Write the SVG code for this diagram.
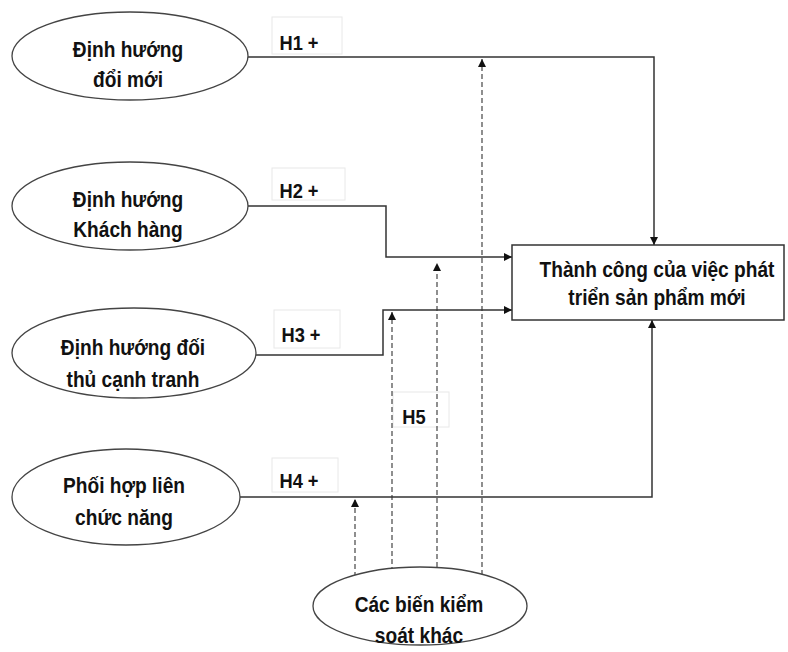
<svg xmlns="http://www.w3.org/2000/svg" width="788" height="652" viewBox="0 0 788 652">
<style>
.node ellipse{fill:#fff;stroke:#444;stroke-width:1.3}
.node rect{fill:#fff;stroke:#333;stroke-width:1.5}
text{font-family:"Liberation Sans",Arial,sans-serif;font-size:22px;font-weight:bold;fill:#111;text-anchor:middle;transform-box:fill-box;transform-origin:center;transform:scaleX(0.87)}
.lbl rect{fill:#fff;stroke:#e8e8e8;stroke-width:1}
.lbl text{font-size:21px}
.solid{fill:none;stroke:#333;stroke-width:1.5}
.dash{fill:none;stroke:#333;stroke-width:1.1;stroke-dasharray:5,3}
</style>
<defs>
<marker id="ah" viewBox="0 0 10 10" refX="10" refY="5" markerWidth="8" markerHeight="8" markerUnits="userSpaceOnUse" orient="auto">
<path d="M0,0 L10,5 L0,10 z" fill="#111"/>
</marker>
</defs>
<rect width="788" height="652" fill="#fff"/>
<g id="labels" class="lbl">
<g id="lbl-h1"><rect x="272" y="17" width="70" height="37"/><text x="299" y="50">H1 +</text></g>
<g id="lbl-h2"><rect x="272" y="168" width="73" height="32"/><text x="299" y="198">H2 +</text></g>
<g id="lbl-h3"><rect x="274" y="310" width="66" height="38"/><text x="301" y="342">H3 +</text></g>
<g id="lbl-h4"><rect x="272" y="458" width="66" height="34"/><text x="299" y="488">H4 +</text></g>
<g id="lbl-h5"><rect x="393" y="392" width="56" height="35"/><text x="414" y="424">H5</text></g>
</g>
<g id="connectors">
<polyline class="solid" points="247,57 654,57 654,245" marker-end="url(#ah)"/>
<polyline class="solid" points="248,206 386,206 386,257 512,257" marker-end="url(#ah)"/>
<polyline class="solid" points="256,355 383,355 383,310 512,310" marker-end="url(#ah)"/>
<polyline class="solid" points="240,497 652,497 652,320" marker-end="url(#ah)"/>
<line class="dash" x1="355" y1="577" x2="355" y2="499" marker-end="url(#ah)"/>
<line class="dash" x1="392" y1="572" x2="392" y2="312" marker-end="url(#ah)"/>
<line class="dash" x1="437" y1="567" x2="437" y2="263" marker-end="url(#ah)"/>
<line class="dash" x1="482" y1="575" x2="482" y2="59" marker-end="url(#ah)"/>
</g>
<g id="n1" class="node"><ellipse cx="130" cy="56" rx="118" ry="44"/><text x="128" y="57">Định hướng</text><text x="128" y="87">đổi mới</text></g>
<g id="n2" class="node"><ellipse cx="130" cy="206" rx="118" ry="44"/><text x="128" y="207">Định hướng</text><text x="128" y="237">Khách hàng</text></g>
<g id="n3" class="node"><ellipse cx="134" cy="353" rx="122" ry="45"/><text x="133" y="355">Định hướng đối</text><text x="133" y="387">thủ cạnh tranh</text></g>
<g id="n4" class="node"><ellipse cx="126" cy="497" rx="114" ry="48"/><text x="124" y="493">Phối hợp liên</text><text x="124" y="525">chức năng</text></g>
<g id="n5" class="node"><ellipse cx="420" cy="606" rx="107" ry="39"/><text x="419" y="612">Các biến kiểm</text><text x="419" y="643">soát khác</text></g>
<g id="target" class="node"><rect x="512" y="245" width="272" height="75"/><text x="657" y="277">Thành công của việc phát</text><text x="657" y="305">triển sản phẩm mới</text></g>
</svg>
